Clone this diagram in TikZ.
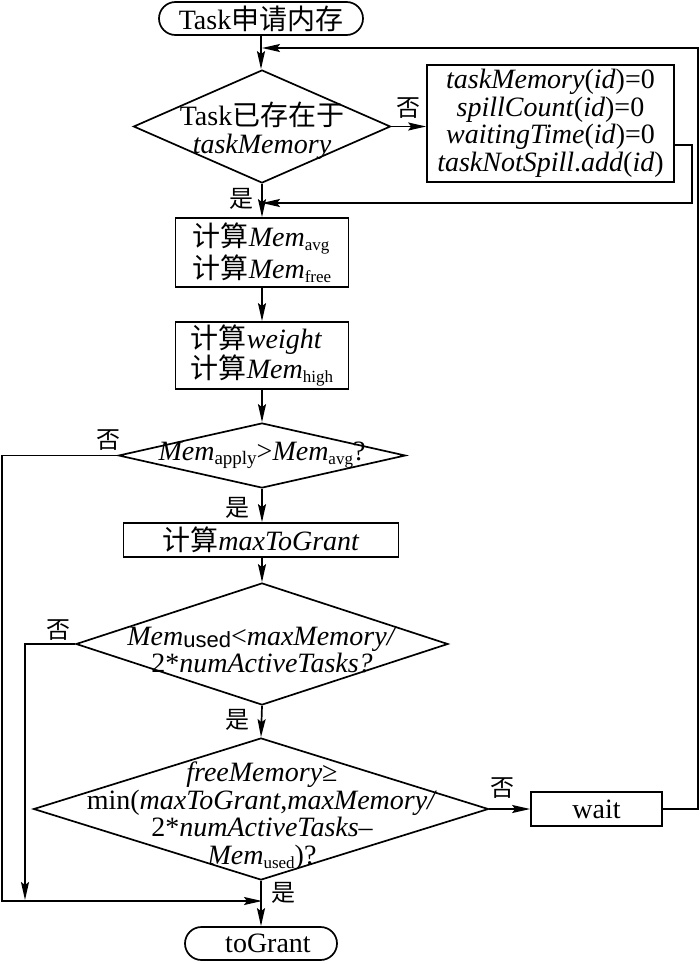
\documentclass[tikz,border=0pt]{standalone}
\usepackage{fontspec}
\setmainfont{Liberation Serif}
\newfontfamily\cjk{Noto Sans CJK SC}
\newfontfamily\lsans{Liberation Sans}
\usetikzlibrary{shapes.geometric,arrows.meta,calc}
\newcommand{\zh}[1]{{\cjk #1}}
\newcommand{\lowsub}[1]{\raisebox{-4pt}{\fontsize{17}{17}\selectfont #1}}
\begin{document}
\begin{tikzpicture}[x=1pt,y=-1pt,
  ln/.style={line width=1.7pt,draw=black},
  arr/.style={ln,-{Stealth[length=18pt,width=8pt,inset=3pt]}},
  term/.style={draw,line width=1.7pt,rounded corners=16.5pt,inner sep=0,minimum height=33pt,font=\fontsize{28}{28}\selectfont},
  proc/.style={draw,rectangle,line width=1.7pt,inner sep=0,font=\fontsize{28}{27.5}\selectfont},
  dec/.style={draw,diamond,line width=1.7pt,inner sep=0},
  txt/.style={font=\fontsize{28}{27.5}\selectfont,align=center,inner sep=0},
  lab/.style={font=\cjk\fontsize{24}{24}\selectfont,inner sep=0}]
\useasboundingbox (0,0) rectangle (700,964);
% nodes
\node[term,minimum width=204pt] (start) at (261,18.5) {Task\zh{申请内存}};
\node[dec,minimum width=257pt,minimum height=113pt] (d1) at (262,126.5) {};
\node[txt] (d1t) at (262,131) {\baselineskip=30pt Task\zh{已存在于}\\ \textit{taskMemory}};
\node[proc,minimum width=247pt,minimum height=117pt,align=center] (init) at (550.5,123.5)
  {\textit{taskMemory}(\textit{id})=0\\ \textit{spillCount}(\textit{id})=0\\ \textit{waitingTime}(\textit{id})=0\\ \textit{taskNotSpill}.\textit{add}(\textit{id})};
\node[proc,minimum width=173pt,minimum height=69pt,align=left] (b1) at (262,252.5)
  {\zh{计算}\textit{Mem}\lowsub{avg}\\ \zh{计算}\textit{Mem}\lowsub{free}};
\node[proc,minimum width=173pt,minimum height=67pt,align=left] (b2) at (262,355.5)
  {\zh{计算}\textit{weight}\\ \zh{计算}\textit{Mem}\lowsub{high}};
\node[dec,minimum width=287pt,minimum height=65pt] (d3) at (262,455.5) {};
\node[txt] (d3t) at (262,455) {\textit{Mem}\raisebox{-4pt}{\fontsize{19}{19}\selectfont apply}>\textit{Mem}\lowsub{avg}?};
\node[proc,minimum width=275pt,minimum height=34pt] (b3) at (261,540) {\zh{计算}\textit{maxToGrant}};
\node[dec,minimum width=372pt,minimum height=122pt] (d4) at (262,644) {};
\node[txt] (d4t) at (262,650) {\textit{Mem}\raisebox{-2pt}{\lsans\fontsize{22}{22}\selectfont used}<\textit{maxMemory/}\\ 2*\textit{numActiveTasks?}};
\node[dec,minimum width=455pt,minimum height=142pt] (d5) at (261,809) {};
\node[txt] (d5t) at (262,816) {\textit{freeMemory}≥\\ min(\textit{maxToGrant},\textit{maxMemory/}\\ 2*\textit{numActiveTasks}–\\ \textit{Mem}\lowsub{used})?};
\node[proc,minimum width=131pt,minimum height=34pt] (wait) at (596.5,809) {wait};
\node[term,minimum width=152pt] (end) at (261,943.5) {\hspace{14pt}toGrant};
% junction coordinates
\coordinate (j1) at (262,48);
\coordinate (j2) at (262,203);
\coordinate (j3) at (262,901);
\coordinate (rr) at (698,48);
\coordinate (ri) at (692,203);
\coordinate (L1) at (2,901);
\coordinate (L2) at (25,900);
% connectors
\draw[arr] (start.south) -- (start.south |- d1.north);
\draw[arr] (wait.east) -| (rr) -- (j1);
\draw[arr] (d1.east) -- (init.west |- d1.east);
\draw[arr] ($(init.east)+(0,21.5)$) -| (ri) -- (j2);
\draw[arr] (d1.south) -- (b1.north);
\draw[arr] (b1.south) -- (b2.north);
\draw[arr] (b2.south) -- (d3.north);
\draw[arr] (d3.south) -- (d3.south |- b3.north);
\draw[arr] (d3.south |- b3.south) -- (d4.north);
\draw[arr] (d3.west) -| (L1) -- (j3);
\draw[arr] (d4.south) -- (d5.north);
\draw[arr] (d4.west) -| (L2);
\draw[arr] (d5.east) -- (wait.west);
\draw[arr] (d5.south) -- (d5.south |- end.north);
% labels
\node[lab] (n1) at (408,108) {否};
\node[lab] (y1) at (241,199) {是};
\node[lab] (n3) at (108,440) {否};
\node[lab] (y3) at (237,508) {是};
\node[lab] (n4) at (58,630) {否};
\node[lab] (y4) at (237,720) {是};
\node[lab] (n5) at (502,788) {否};
\node[lab] (y5) at (283,893) {是};
\end{tikzpicture}
\end{document}
